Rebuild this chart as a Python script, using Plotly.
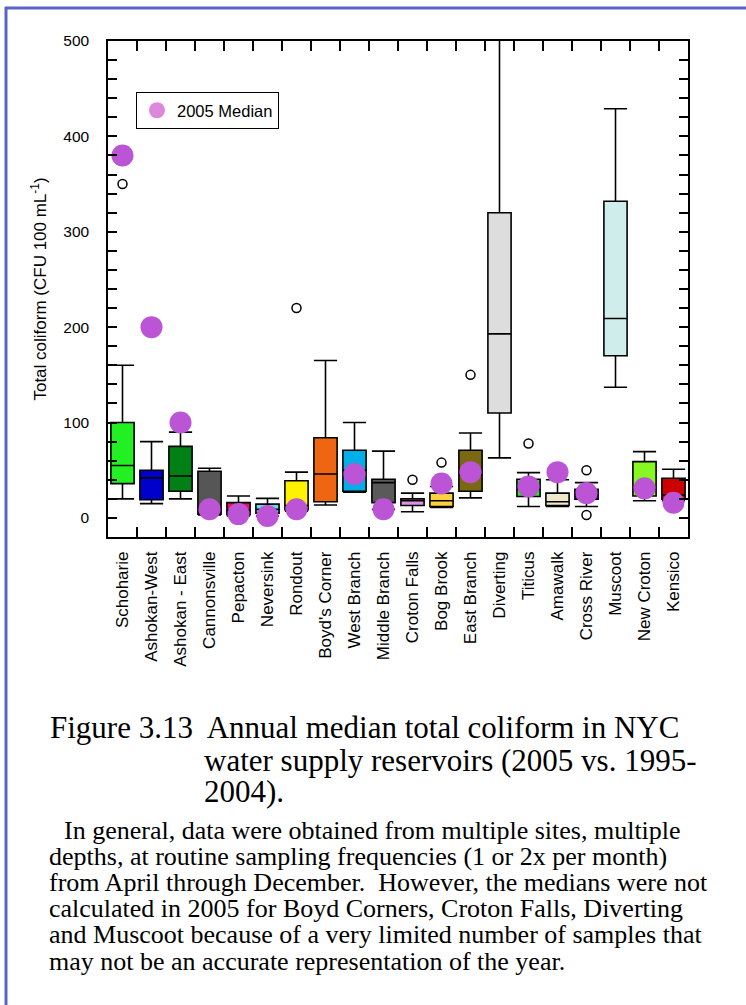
import plotly.graph_objects as go

# Reservoirs, 1995-2004 box statistics (CFU 100 mL-1)
reservoirs = ["Schoharie", "Ashokan-West", "Ashokan - East", "Cannonsville", "Pepacton",
              "Neversink", "Rondout", "Boyd's Corner", "West Branch", "Middle Branch",
              "Croton Falls", "Bog Brook", "East Branch", "Diverting", "Titicus",
              "Amawalk", "Cross River", "Muscoot", "New Croton", "Kensico"]
lower_fence = [20, 15, 20, 3, 2, 2, 7, 13.5, 27, 9, 6.5, 11, 21, 63, 12, 12, 12, 137, 18, 18]
q1 = [36, 19, 28, 4, 3.5, 5, 8.5, 17, 28, 16, 13, 12, 28, 110, 22.5, 13, 19.5, 170, 23, 19.6]
median = [55, 42, 44, 10, 8, 9, 13, 46, 50, 37, 18, 18, 45, 193, 30, 17, 25, 209, 30, 24]
q3 = [100, 50, 75, 49, 16, 14.5, 39, 84, 71, 40.5, 20, 26, 71, 320, 40.5, 26, 30, 332, 59, 41.6]
upper_fence = [160, 80, 90, 52, 23, 20.5, 48, 165, 100, 70, 26, 33, 89, 560, 47.5, 40, 37, 429, 69.5, 51]
box_colors = ["#22f022", "#0000cc", "#008015", "#565656", "#e8106a", "#5ae0f0", "#fff200",
              "#ee6611", "#00aee8", "#5a5a5a", "#e090e0", "#fcd040", "#7a6812", "#dcdddc",
              "#2ee82e", "#f0e9c9", "#8c1ccc", "#cfeeeb", "#88f822", "#cc0000"]

# Outliers
outlier_site = ["Schoharie", "Rondout", "Croton Falls", "Bog Brook", "East Branch",
                "Titicus", "Cross River", "Cross River"]
outlier_value = [350, 220, 40, 58, 150, 78, 50, 3]

# 2005 medians (not calculated for Boyd's Corner, Croton Falls, Diverting, Muscoot)
median_2005 = [380, 200, 100, 9, 4, 2, 9, None, 46, 9, None, 36, 48, None, 33, 48, 26, None, 31, 16]

W, H = 746, 1005
L, R, T, B = 108, 688, 41, 537


def px_x(x):
    return (x - L) / (R - L)


def px_y(y):
    return (B - y) / (B - T)


fig = go.Figure()

for i, name in enumerate(reservoirs):
    fig.add_trace(go.Box(
        x=[name], q1=[q1[i]], median=[median[i]], q3=[q3[i]],
        lowerfence=[lower_fence[i]], upperfence=[upper_fence[i]],
        fillcolor=box_colors[i], line=dict(color="black", width=1.6),
        width=0.8, whiskerwidth=1, boxpoints=False, showlegend=False,
        hoverinfo="skip",
    ))

fig.add_trace(go.Scatter(
    x=outlier_site, y=outlier_value, mode="markers", showlegend=False,
    marker=dict(symbol="circle-open", size=9, color="black", line=dict(width=1.5)),
))

fig.add_trace(go.Scatter(
    x=reservoirs, y=median_2005, mode="markers", showlegend=False,
    marker=dict(size=22, color="#bb55d6"),
))

# legend entry
fig.add_trace(go.Scatter(
    x=[None], y=[None], mode="markers", name="2005 Median",
    marker=dict(size=22, color="#dd88dd"),
))

sans = "Liberation Sans, Arial"
fig.update_layout(
    width=W, height=H,
    margin=dict(l=L, r=W - R, t=T, b=H - B),
    paper_bgcolor="white", plot_bgcolor="white",
    font=dict(family=sans, size=16, color="black"),
    showlegend=True,
    legend=dict(x=px_x(136), y=px_y(92), xanchor="left", yanchor="top",
                bordercolor="black", borderwidth=1, bgcolor="white",
                font=dict(family=sans, size=16.5, color="black"),
                itemsizing="trace"),
    xaxis=dict(
        type="category", categoryorder="array", categoryarray=reservoirs,
        range=[-0.5, 19.5], tickson="boundaries", ticks="inside", ticklen=10,
        tickcolor="black", tickwidth=1.5, showline=True, linecolor="black", linewidth=1.5,
        mirror="allticks", tickangle=-90, showgrid=False,
        tickfont=dict(family=sans, size=17, color="black"),
        ticklabelstandoff=6,
    ),
    yaxis=dict(
        range=[-20, 500], tickmode="linear", tick0=0, dtick=100,
        ticks="inside", ticklen=9, tickcolor="black", tickwidth=1.5,
        minor=dict(dtick=20, tick0=0, ticks="inside", ticklen=9, tickcolor="black",
                   tickwidth=1.5, showgrid=False),
        showline=True, linecolor="black", linewidth=1.5, mirror="allticks",
        showgrid=False, zeroline=False,
        tickfont=dict(family=sans, size=15.5, color="black"), ticklabelstandoff=14,
        title=dict(text="Total coliform (CFU 100 mL<sup>-1</sup>)",
                   font=dict(family=sans, size=17, color="black"), standoff=12),
    ),
)

# Frame lines
frame_color = "#5a64c8"
fig.add_shape(type="line", xref="paper", yref="paper", x0=px_x(5), x1=px_x(746),
              y0=px_y(8), y1=px_y(8), line=dict(color=frame_color, width=3))
fig.add_shape(type="line", xref="paper", yref="paper", x0=px_x(6), x1=px_x(6),
              y0=px_y(7), y1=px_y(1006), line=dict(color=frame_color, width=3))

serif = "Liberation Serif, Times New Roman"
caption_lines = [
    (48, 727, "Figure 3.13  Annual median total coliform in NYC"),
    (202, 760, "water supply reservoirs (2005 vs. 1995-"),
    (202, 791, "2004)."),
]
for x, y, txt in caption_lines:
    fig.add_annotation(xref="paper", yref="paper", x=px_x(x), y=px_y(y), text=txt,
                       showarrow=False, xanchor="left", yanchor="middle",
                       font=dict(family=serif, size=31, color="black"))

para_lines = [
    (62, "In general, data were obtained from multiple sites, multiple"),
    (47, "depths, at routine sampling frequencies (1 or 2x per month)"),
    (47, "from April through December.  However, the medians were not"),
    (47, "calculated in 2005 for Boyd Corners, Croton Falls, Diverting"),
    (47, "and Muscoot because of a very limited number of samples that"),
    (47, "may not be an accurate representation of the year."),
]
for k, (x, txt) in enumerate(para_lines):
    fig.add_annotation(xref="paper", yref="paper", x=px_x(x), y=px_y(830 + k * 26.2),
                       text=txt, showarrow=False, xanchor="left", yanchor="middle",
                       font=dict(family=serif, size=26, color="black"))

fig.write_html("out.html")
